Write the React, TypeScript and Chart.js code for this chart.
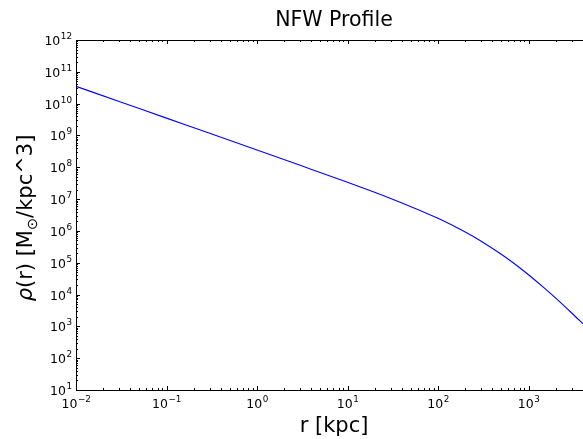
import React, { useEffect, useRef } from "react";
import { Chart, registerables } from "chart.js";

Chart.register(...registerables);

// Values (r in kpc, rho in Msun/kpc^3)
const radii = [0.01, 0.03, 0.1, 0.3, 1, 3, 10, 30, 100, 200, 300, 500, 700, 1000, 1500, 2000, 3000, 4000];
const density = [3.5e10, 1.17e10, 3.5e9, 1.17e9, 3.49e8, 1.15e8, 3.37e7, 1.05e7, 2.48e6, 9.2e5, 4.76e5, 1.85e5, 9.3e4, 4.2e4, 1.59e4, 7.7e3, 2.63e3, 1.2e3];

const xDecades = [-2, -1, 0, 1, 2, 3];
const yDecades = [1, 2, 3, 4, 5, 6, 7, 8, 9, 10, 11, 12];
const xMin = 0.01;
const xMax = 4000;
const yMin = 10;
const yMax = 1e12;

const titleText = "NFW Profile";
const xLabel = "r [kpc]";
const FONT = "'DejaVu Sans', sans-serif";

function expText(k: number) {
  return k < 0 ? "\u2212" + String(-k) : String(k);
}

const axesPlugin = {
  id: "mplAxes",
  afterDraw(chart: any) {
    const ctx = chart.ctx as CanvasRenderingContext2D;
    const { left, right, top, bottom } = chart.chartArea;
    const xs = chart.scales.x;
    const ys = chart.scales.y;
    ctx.save();
    ctx.strokeStyle = "#000";
    ctx.fillStyle = "#000";
    ctx.lineWidth = 1;
    // spines
    ctx.beginPath();
    ctx.moveTo(right + 1, top + 0.5);
    ctx.lineTo(left + 0.5, top + 0.5);
    ctx.lineTo(left + 0.5, bottom + 0.5);
    ctx.lineTo(right + 1, bottom + 0.5);
    ctx.stroke();

    // x ticks
    ctx.beginPath();
    for (const k of xDecades) {
      for (let m = 1; m <= 9; m++) {
        const v = m * Math.pow(10, k);
        if (v < xMin || v > xMax) continue;
        const px = Math.round(xs.getPixelForValue(v)) + 0.5;
        const len = m === 1 ? 4 : 2;
        ctx.moveTo(px, bottom);
        ctx.lineTo(px, bottom - len);
        ctx.moveTo(px, top);
        ctx.lineTo(px, top + len);
      }
    }
    // y ticks
    for (const k of [0, ...yDecades]) {
      for (let m = 1; m <= 9; m++) {
        const v = m * Math.pow(10, k);
        if (v < yMin || v > yMax) continue;
        const py = Math.round(ys.getPixelForValue(v)) + 0.5;
        const len = m === 1 ? 4 : 2;
        ctx.moveTo(left, py);
        ctx.lineTo(left + len, py);
      }
    }
    ctx.stroke();

    const baseFont = "12.5px " + FONT;
    const supFont = "8.8px " + FONT;
    ctx.textBaseline = "alphabetic";
    // x tick labels
    for (const k of xDecades) {
      const px = xs.getPixelForValue(Math.pow(10, k));
      ctx.font = baseFont;
      const w1 = ctx.measureText("10").width;
      ctx.font = supFont;
      const e = expText(k);
      const w2 = ctx.measureText(e).width;
      const x0 = px - (w1 + w2) / 2;
      ctx.textAlign = "left";
      ctx.font = baseFont;
      ctx.fillText("10", x0, bottom + 18);
      ctx.font = supFont;
      ctx.fillText(e, x0 + w1 + 0.5, bottom + 12);
    }
    // y tick labels
    for (const k of yDecades) {
      const py = ys.getPixelForValue(Math.pow(10, k));
      const e = expText(k);
      ctx.font = supFont;
      const w2 = ctx.measureText(e).width;
      ctx.font = baseFont;
      const w1 = ctx.measureText("10").width;
      const xr = left - 4;
      ctx.textAlign = "left";
      ctx.fillText("10", xr - w2 - w1 - 0.5, py + 5);
      ctx.font = supFont;
      ctx.fillText(e, xr - w2, py - 1);
    }

    // title
    ctx.textAlign = "center";
    ctx.textBaseline = "alphabetic";
    ctx.font = "20.5px " + FONT;
    ctx.fillText(titleText, 334, 26);

    // x label
    ctx.font = "21px " + FONT;
    ctx.fillText(xLabel, 334, 432);

    // y label: rho(r) [M_sun/kpc^3]
    ctx.save();
    ctx.translate(32, 218);
    ctx.rotate(-Math.PI / 2);
    const big = "21px " + FONT;
    const ital = "italic 21px " + FONT;
    const sub = "14.5px " + FONT;
    const parts: [string, string, number][] = [
      ["\u03c1", ital, 0],
      ["(r) [M", big, 0],
      ["\u2299", sub, 5],
      ["/kpc^3]", big, 0],
    ];
    let total = 0;
    const widths: number[] = [];
    for (const [t, f] of parts) {
      ctx.font = f;
      const w = ctx.measureText(t).width;
      widths.push(w);
      total += w;
    }
    let cx = -total / 2;
    ctx.textAlign = "left";
    parts.forEach(([t, f, dy], i) => {
      ctx.font = f;
      ctx.fillText(t, cx, dy);
      cx += widths[i];
    });
    ctx.restore();

    ctx.restore();
  },
};

export default function App() {
  const ref = useRef<HTMLCanvasElement>(null);
  useEffect(() => {
    document.body.style.margin = "0";
    const canvas = ref.current!;
    const chart = new Chart(canvas, {
      type: "line",
      data: {
        datasets: [
          {
            data: radii.map((r, i) => ({ x: r, y: density[i] })),
            borderColor: "#0000ff",
            borderWidth: 1.1,
            pointRadius: 0,
            fill: false,
            cubicInterpolationMode: "monotone",
          },
        ],
      },
      options: {
        animation: false,
        responsive: false,
        devicePixelRatio: 1,
        layout: { padding: { left: 76, top: 40, right: 0, bottom: 49 } },
        scales: {
          x: { type: "logarithmic", min: xMin, max: xMax, display: false },
          y: { type: "logarithmic", min: yMin, max: yMax, display: false },
        },
        plugins: {
          legend: { display: false },
          title: { display: false },
          tooltip: { enabled: false },
        },
      },
      plugins: [axesPlugin],
    } as any);
    return () => chart.destroy();
  }, []);
  return (
    <div style={{ width: 583, height: 439, background: "#fff", overflow: "hidden" }}>
      <canvas ref={ref} width={583} height={439} style={{ display: "block" }} />
    </div>
  );
}
